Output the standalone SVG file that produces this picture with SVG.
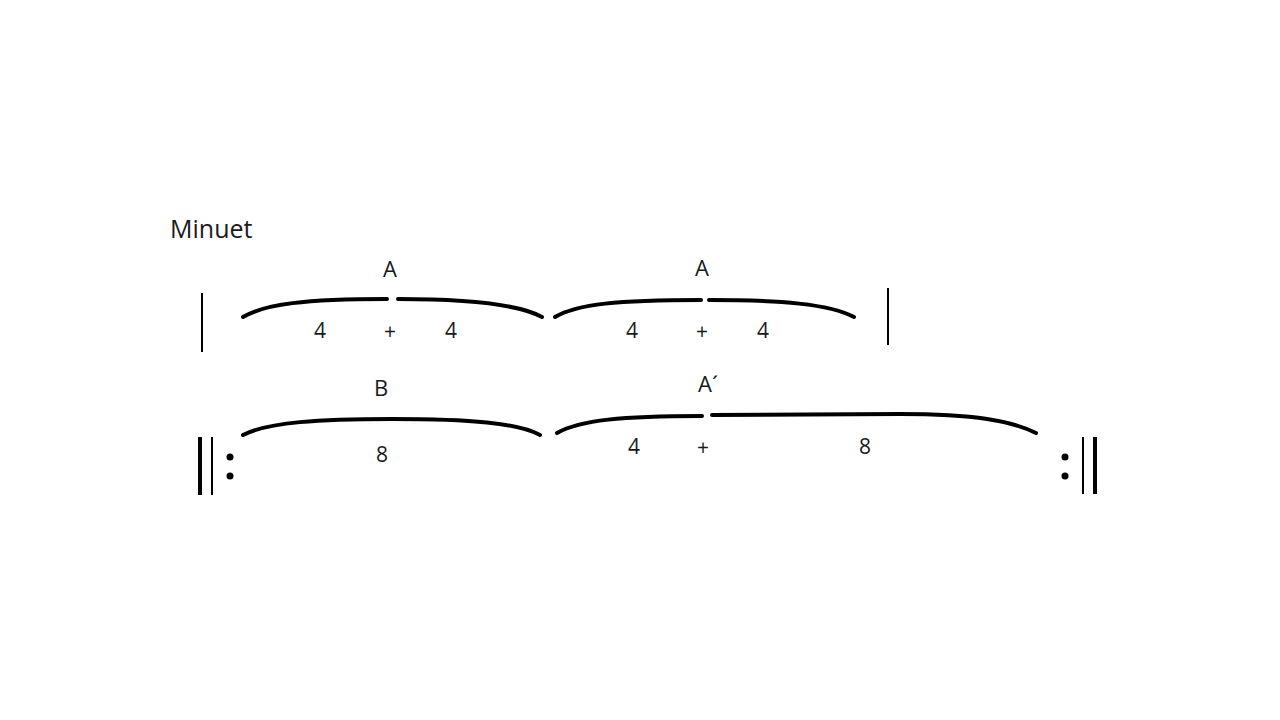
<svg xmlns="http://www.w3.org/2000/svg" width="1280" height="720" viewBox="0 0 1280 720">
<style>
text{font-family:"Open Sans","Noto Sans","Liberation Sans",sans-serif;fill:#1a1a1a;text-anchor:middle}
.lbl{font-size:22px}
.num{font-size:21px}
.plus{font-size:21px}
.brace{fill:none;stroke:#000;stroke-width:4;stroke-linecap:round}
.bar{stroke:#000;stroke-width:2}
.thick{stroke:#000;stroke-width:4}
</style>
<rect width="1280" height="720" fill="#fff"/>
<text x="170" y="238" style="font-size:25px;text-anchor:start">Minuet</text>
<g id="connectors">
<line class="bar" x1="202" y1="293" x2="202" y2="352"/>
<line class="bar" x1="888" y1="288" x2="888" y2="345"/>
<line class="thick" x1="200" y1="437" x2="200" y2="495"/>
<line class="bar" x1="212" y1="437" x2="212" y2="495"/>
<circle cx="230" cy="457" r="3.5"/>
<circle cx="230" cy="476" r="3.5"/>
<circle cx="1065" cy="457" r="3.5"/>
<circle cx="1065" cy="476" r="3.5"/>
<line class="bar" x1="1083" y1="437" x2="1083" y2="494"/>
<line class="thick" x1="1095" y1="437" x2="1095" y2="494"/>
</g>
<g id="A1">
<path class="brace" d="M243,317 C265,304 305,299 387,299 M398,299 C470,299 518,304 542,317"/>
<text class="lbl" x="390" y="277">A</text>
<text class="num" x="320" y="338">4</text>
<text class="plus" x="390" y="339">+</text>
<text class="num" x="451" y="338">4</text>
</g>
<g id="A2">
<path class="brace" d="M555,317 C577,304 618,300 701,300 M709,300 C780,300 830,304 854,317"/>
<text class="lbl" x="702" y="276">A</text>
<text class="num" x="632" y="338">4</text>
<text class="plus" x="702" y="339">+</text>
<text class="num" x="763" y="338">4</text>
</g>
<g id="B">
<path class="brace" d="M243,435 C268,422 320,419 392,419 C470,419 518,423 540,435"/>
<text class="lbl" x="381" y="396">B</text>
<text class="num" x="382" y="462">8</text>
</g>
<g id="A3">
<path class="brace" d="M557,433 C580,420 622,416 702,416 M712,415 L900,414 C975,414 1012,421 1036,433"/>
<text class="lbl" x="708" y="392">A´</text>
<text class="num" x="634" y="454">4</text>
<text class="plus" x="703" y="455">+</text>
<text class="num" x="865" y="454">8</text>
</g>
</svg>
